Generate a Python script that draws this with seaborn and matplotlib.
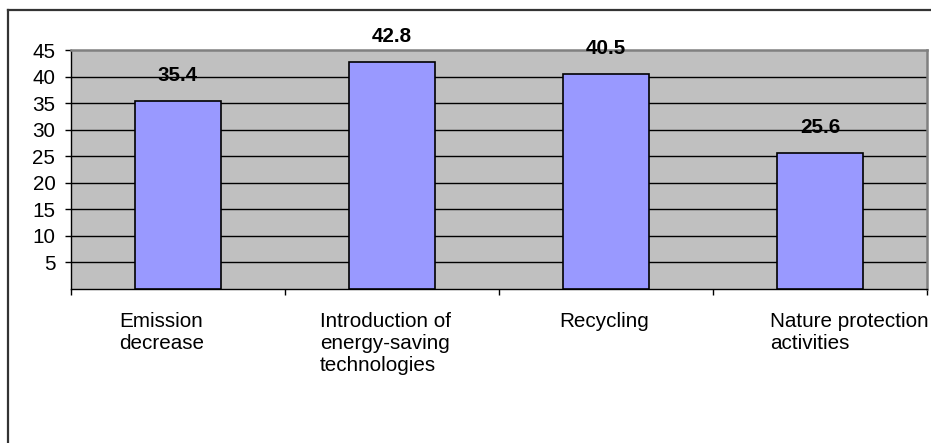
import matplotlib
matplotlib.use("Agg")
import matplotlib.pyplot as plt
import seaborn as sns
import pandas as pd
from matplotlib.lines import Line2D
from matplotlib.transforms import ScaledTranslation

# Data
categories = [
    "Emission\ndecrease",
    "Introduction of\nenergy-saving\ntechnologies",
    "Recycling",
    "Nature protection\nactivities",
]
values = [35.4, 42.8, 40.5, 25.6]
y_ticks = [5, 10, 15, 20, 25, 30, 35, 40, 45]

plt.rcParams["font.family"] = ["Liberation Sans", "DejaVu Sans"]
FS = 14.9

W, H = 931, 443
fig = plt.figure(figsize=(W / 100, H / 100), dpi=100)
fig.patch.set_facecolor("white")

# plot area in pixel terms
left, right, top, bottom = 71, 927, 50, 289
ax = fig.add_axes([left / W, 1 - bottom / H, (right - left) / W, (bottom - top) / H])

df = pd.DataFrame({"category": categories, "value": values})
sns.barplot(
    data=df, x="category", y="value", color="#9999FF", saturation=1,
    width=0.4, edgecolor="black", linewidth=1.2, ax=ax, zorder=3,
)

ax.set_facecolor("#C0C0C0")
ax.set_xlim(-0.5, len(categories) - 0.5)
ax.set_ylim(0, 45)
ax.set_xlabel("")
ax.set_ylabel("")

# horizontal gridlines
for y in y_ticks[:-1]:
    ax.axhline(y, color="black", lw=1.0, zorder=1)

for side in ("left", "bottom"):
    ax.spines[side].set_color("black")
    ax.spines[side].set_linewidth(1.0)
for side in ("top", "right"):
    ax.spines[side].set_color("#808080")
    ax.spines[side].set_linewidth(1.8)

# y axis
ax.set_yticks(y_ticks)
ax.set_yticklabels([str(t) for t in y_ticks])
ax.tick_params(axis="y", direction="out", length=4.3, width=1.0, pad=7,
               labelsize=FS, colors="black")

# x axis: labels at centres, tick marks at category boundaries
ax.set_xticks(range(len(categories)))
ax.set_xticks([i - 0.5 for i in range(len(categories) + 1)], minor=True)
ax.tick_params(axis="x", which="major", length=0, pad=16.5, labelsize=FS)
ax.tick_params(axis="x", which="minor", direction="out", length=4.3, width=1.0)

label_shift_px = [-59, -72, -47, -50]
for lbl, dx in zip(ax.get_xticklabels(), label_shift_px):
    lbl.set_horizontalalignment("left")
    lbl.set_multialignment("left")
    lbl.set_transform(lbl.get_transform() + ScaledTranslation(dx / 100, 0, fig.dpi_scale_trans))

# value labels above bars
for bar in ax.containers[0]:
    h = bar.get_height()
    ax.annotate(f"{h:.1f}", (bar.get_x() + bar.get_width() / 2, h),
                xytext=(0, 14.4), textcoords="offset points",
                ha="center", va="baseline", fontsize=FS, fontweight="bold",
                color="black", zorder=4, annotation_clip=False)

# outer chart frame
fig.add_artist(Line2D([8 / W, 1.01], [1 - 10 / H, 1 - 10 / H], transform=fig.transFigure,
                      color="#333333", lw=1.6))
fig.add_artist(Line2D([8 / W, 8 / W], [-0.01, 1 - 10 / H], transform=fig.transFigure,
                      color="#333333", lw=1.6))

fig.savefig("out.png", dpi=100)
